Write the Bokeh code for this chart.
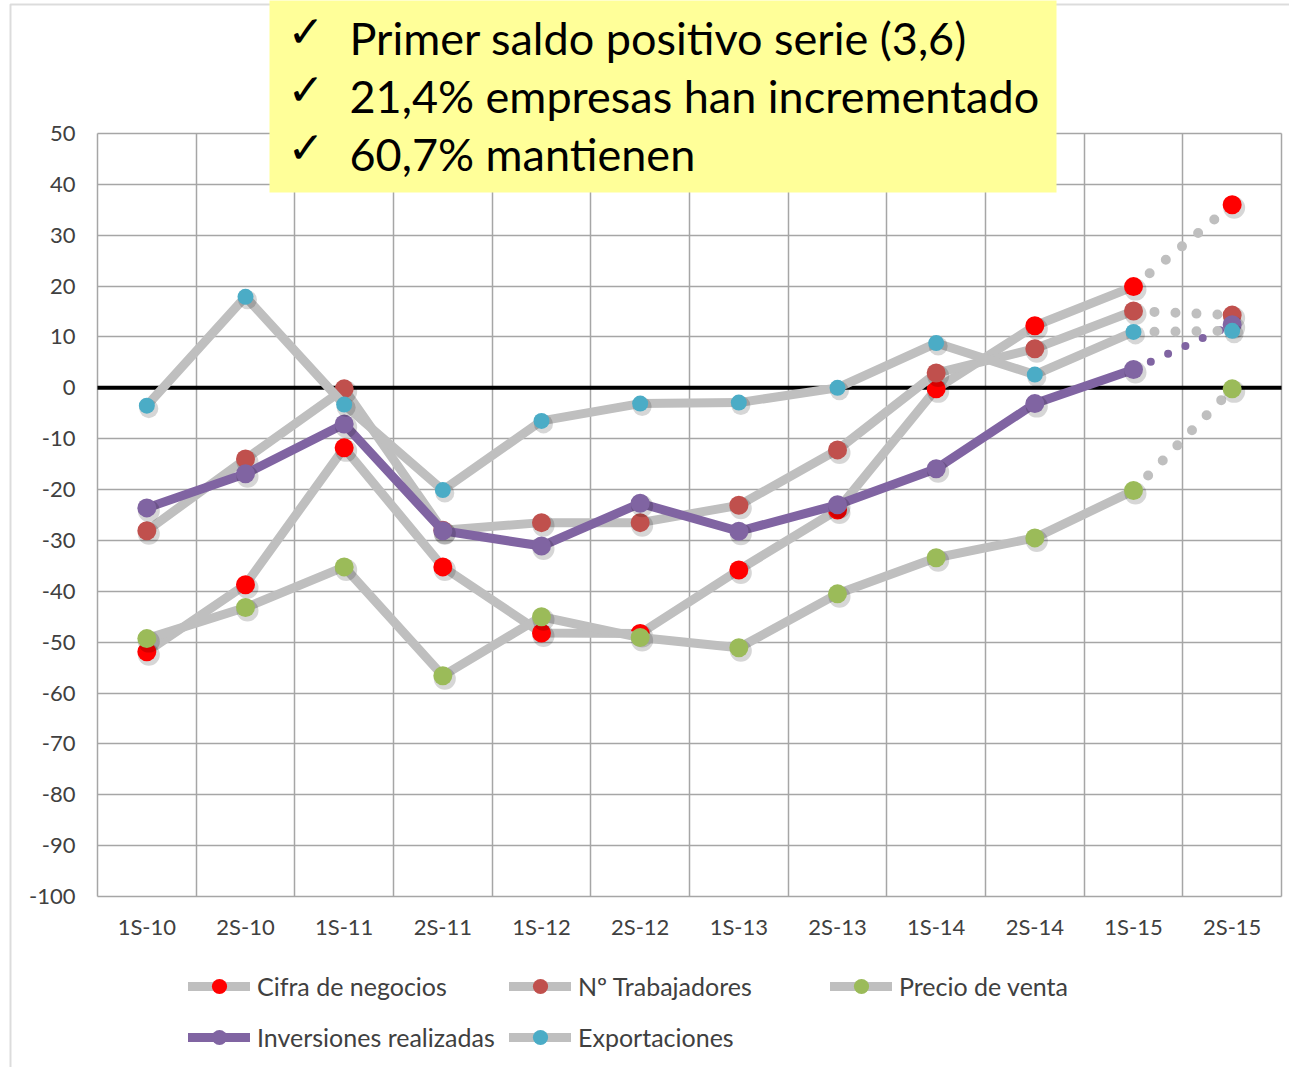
from bokeh.plotting import figure
from bokeh.models import (Range1d, FixedTicker, Legend, LegendItem, BoxAnnotation, Label, Grid)
from bokeh.embed import file_html
from bokeh.resources import INLINE

# ---------------- data ----------------
categories = ["1S-10", "2S-10", "1S-11", "2S-11", "1S-12", "2S-12",
              "1S-13", "2S-13", "1S-14", "2S-14", "1S-15", "2S-15"]
cifra = [-51.9, -38.7, -11.8, -35.2, -48.2, -48.3, -35.8, -24.0, -0.2, 12.2, 19.9, 36.0]
trabajadores = [-28.1, -14.0, -0.2, -28.0, -26.5, -26.5, -23.1, -12.2, 2.9, 7.7, 15.1, 14.3]
precio = [-49.3, -43.2, -35.2, -56.6, -45.0, -49.1, -51.1, -40.5, -33.4, -29.5, -20.2, -0.2]
inversiones = [-23.6, -16.9, -7.1, -28.1, -31.1, -22.7, -28.2, -23.0, -15.9, -3.1, 3.6, 12.4]
exportaciones = [-3.5, 17.9, -3.3, -20.1, -6.5, -3.1, -2.9, 0.0, 8.8, 2.6, 11.0, 11.2]
y_ticks = list(range(-100, 51, 10))

series_names = ["Cifra de negocios", "Nº Trabajadores", "Precio de venta",
                "Inversiones realizadas", "Exportaciones"]
series_values = [cifra, trabajadores, precio, inversiones, exportaciones]
marker_colors = ["#FF0000", "#C0504D", "#9BBB59", "#8064A2", "#4BACC6"]
line_colors = ["#BFBFBF", "#BFBFBF", "#BFBFBF", "#8064A2", "#BFBFBF"]
marker_sizes = [19, 19, 19, 19, 16]

box_lines = ["Primer saldo positivo serie (3,6)",
             "21,4% empresas han incrementado",
             "60,7% mantienen"]

# ---------------- layout constants (canvas pixels) ----------------
W, H = 1289, 1067
FL, FR, FT, FB = 97, 1281, 133, 896   # plot-area edges in px
N = len(categories)
YMIN, YMAX = y_ticks[0], y_ticks[-1]


def px2x(px):
    return (px - FL) / (FR - FL) * N


def py2y(py):
    return YMAX - (py - FT) / (FB - FT) * (YMAX - YMIN)


DX_PX = (FR - FL) / N            # px per x unit
DY_PX = (FB - FT) / (YMAX - YMIN)  # px per y unit

xs = [i + 0.5 for i in range(N)]
bounds_x = list(range(N + 1))

p = figure(width=W, height=H,
           x_range=Range1d(px2x(0), px2x(W)), y_range=Range1d(py2y(H), py2y(0)),
           output_backend="svg", toolbar_location=None,
           min_border_left=0, min_border_right=0, min_border_top=0, min_border_bottom=0)
p.background_fill_color = "white"
p.border_fill_color = "white"
p.outline_line_color = None

grid_color = "#A6A6A6"
has_cross = "cross_bounds" in Grid.properties()
p.xgrid.ticker = FixedTicker(ticks=bounds_x)
p.ygrid.ticker = FixedTicker(ticks=y_ticks)
if has_cross:
    p.xgrid.cross_bounds = (YMIN, YMAX)
    p.ygrid.cross_bounds = (0, N)
    for g in (p.xgrid, p.ygrid):
        g.grid_line_color = grid_color
        g.grid_line_width = 1.5
else:
    p.xgrid.grid_line_color = None
    p.ygrid.grid_line_color = None
    p.segment(x0=bounds_x, y0=[YMIN] * len(bounds_x), x1=bounds_x, y1=[YMAX] * len(bounds_x),
              line_color=grid_color, line_width=1.5)
    p.segment(x0=[0] * len(y_ticks), y0=y_ticks, x1=[N] * len(y_ticks), y1=y_ticks,
              line_color=grid_color, line_width=1.5)

p.xaxis.ticker = FixedTicker(ticks=xs)
p.xaxis.major_label_overrides = {x: c for x, c in zip(xs, categories)}
p.yaxis.ticker = FixedTicker(ticks=y_ticks)
p.yaxis.major_label_overrides = {v: str(v) for v in y_ticks}
p.xaxis.fixed_location = YMIN
p.yaxis.fixed_location = 0
for ax in (p.xaxis, p.yaxis):
    ax.axis_line_color = None
    ax.major_tick_line_color = None
    ax.minor_tick_line_color = None
    ax.major_tick_out = 0
    ax.major_tick_in = 0
    ax.major_label_text_font = "Lato"
    ax.major_label_text_font_size = "22px"
    ax.major_label_text_color = "#404040"
p.xaxis.major_label_standoff = 16
p.yaxis.major_label_standoff = 22

# zero reference line across the plot area
p.line(x=[0, N], y=[0, 0], line_color="black", line_width=4)

items = []
for name, vals, mc, lc, ms in zip(series_names, series_values, marker_colors, line_colors, marker_sizes):
    solid = p.line(xs[:-1], vals[:-1], line_color=lc, line_width=9, line_cap="round", line_join="round")
    if lc == "#BFBFBF":
        p.line(xs[-2:], vals[-2:], line_color=lc, line_width=10, line_cap="round", line_dash="0 21")
    else:
        p.line(xs[-2:], vals[-2:], line_color=lc, line_width=8, line_cap="round", line_dash="0 19")
    # soft drop shadow of the markers (offset 2px right, 3px down)
    p.scatter([x + 2 / DX_PX for x in xs], [v - 3 / DY_PX for v in vals], size=ms + 3,
              fill_color="black", fill_alpha=0.16, line_color=None)
    sc = p.scatter(xs, vals, size=ms, fill_color=mc, line_color=None)
    items.append(LegendItem(label=name, renderers=[solid, sc]))

legend = Legend(items=items, ncols=3, orientation="horizontal",
                location=(188, H - 1056), glyph_width=62, glyph_height=38,
                label_standoff=7, label_width=239, label_height=38, spacing=13,
                padding=5, margin=0, border_line_color=None, background_fill_alpha=0,
                label_text_font="Lato", label_text_font_size="25px",
                label_text_color="#404040")
p.add_layout(legend)

# outer border of the chart area
p.add_layout(BoxAnnotation(left=px2x(10), right=px2x(W + 60), top=py2y(4), bottom=py2y(H + 60),
                           fill_color=None, line_color="#8C8C8C", line_width=2))

# yellow call-out box
p.add_layout(BoxAnnotation(left=px2x(269), right=px2x(1056), top=py2y(-20), bottom=py2y(192),
                           fill_color="#FFFF99", fill_alpha=1, line_color=None))
SHIFT = 18
for i, t in enumerate(box_lines):
    base = 55 + 58 * i - SHIFT
    p.add_layout(Label(x=px2x(287), y=py2y(base - 6), text="✓", text_font="DejaVu Sans",
                       text_font_size="44px", text_font_style="bold", text_color="black",
                       text_baseline="alphabetic"))
    p.add_layout(Label(x=px2x(349), y=py2y(base), text=t, text_font="Lato",
                       text_font_size="45px", text_color="black", text_baseline="alphabetic"))

open("out.html", "w").write(file_html(p, INLINE))
